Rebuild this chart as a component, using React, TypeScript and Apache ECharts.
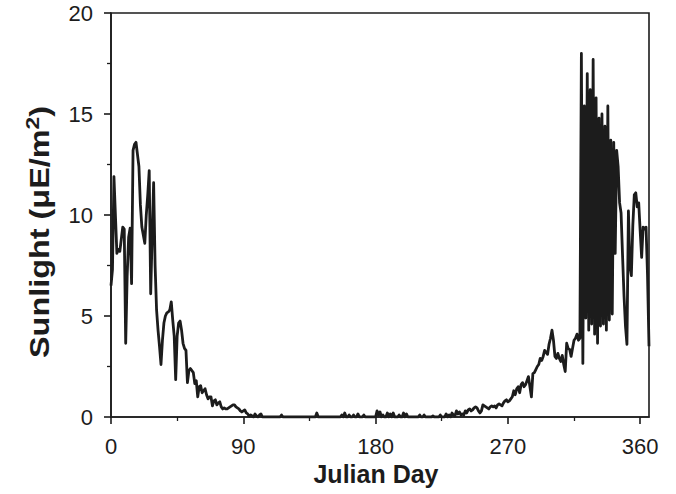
import React, { useEffect, useRef } from "react";
import * as echarts from "echarts";

// Julian day tick labels
const xTicks = [0, 90, 180, 270, 360];
const xMinorTicks = [45, 135, 225, 315];
const yTicks = [0, 5, 10, 15, 20];

// Sunlight (µE/m²), one value per Julian day 0..366
const sunlight0to99 = [
  6.5, 7.3, 11.9, 10.0, 8.1, 8.3, 8.2, 8.8, 9.4, 9.3,
  3.65, 7.0, 8.9, 9.35, 6.6, 13.2, 13.5, 13.6, 13.0, 12.4,
  10.5, 9.4, 9.0, 8.6, 10.0, 11.0, 12.2, 6.1, 9.0, 11.6,
  7.5, 5.3, 4.3, 3.5, 2.6, 3.8, 4.65, 5.0, 5.15, 5.2,
  5.3, 5.7, 4.8, 4.0, 1.85, 4.0, 4.65, 4.75, 4.3, 3.65,
  3.4, 3.3, 1.7, 2.3, 2.4, 2.3, 2.2, 1.65, 1.8, 1.0,
  1.5, 1.55, 1.2, 1.3, 1.4, 1.1, 0.9, 1.0, 1.0, 0.55,
  0.8, 0.85, 0.6, 0.7, 0.75, 0.5, 0.4, 0.45, 0.4, 0.4,
  0.45, 0.5, 0.55, 0.6, 0.6, 0.5, 0.45, 0.4, 0.3, 0.25,
  0.3, 0.35, 0.2, 0.15, 0.05, 0.1, 0.05, 0, 0.15, 0.05,
];
const sunlight100to199 = [
  0, 0.1, 0.15, 0, 0, 0, 0, 0, 0, 0,
  0, 0, 0, 0, 0, 0, 0.1, 0, 0, 0,
  0, 0, 0, 0, 0, 0, 0, 0, 0, 0,
  0, 0, 0, 0, 0, 0, 0, 0, 0, 0,
  0.2, 0, 0, 0, 0, 0, 0, 0, 0, 0,
  0, 0, 0, 0, 0, 0, 0, 0.1, 0, 0.2,
  0, 0, 0.1, 0, 0, 0.1, 0, 0, 0.15, 0,
  0, 0, 0.1, 0, 0, 0, 0, 0, 0, 0,
  0, 0.3, 0.1, 0.25, 0, 0.1, 0, 0, 0.2, 0,
  0.15, 0, 0.2, 0, 0, 0, 0.1, 0, 0, 0.2,
];
const sunlight200to299 = [
  0, 0.15, 0, 0, 0, 0, 0, 0, 0, 0,
  0.1, 0, 0, 0.1, 0, 0, 0, 0, 0, 0.05,
  0, 0, 0, 0, 0.1, 0, 0, 0, 0.15, 0,
  0.1, 0, 0.2, 0.1, 0.05, 0.3, 0.15, 0.25, 0.1, 0.15,
  0.1, 0.3, 0.2, 0.35, 0.4, 0.3, 0.35, 0.45, 0.5, 0.45,
  0.3, 0.2, 0.3, 0.6, 0.55, 0.5, 0.45, 0.4, 0.5, 0.55,
  0.5, 0.55, 0.45, 0.6, 0.65, 0.6, 0.55, 0.7, 0.8, 0.85,
  0.75, 0.8, 0.9, 1.0, 1.3, 1.1, 1.4, 1.5, 1.2, 1.6,
  1.7, 1.5, 1.6, 1.8, 2.0, 1.5, 1.0, 2.15, 2.2, 2.35,
  2.5, 2.6, 2.9, 2.8, 3.0, 3.3, 3.2, 3.1, 3.6, 3.9,
];
const sunlight300to366 = [
  4.3, 3.8, 3.0, 2.9, 3.15, 2.9, 2.75, 3.05, 2.6, 2.25,
  3.65, 3.4, 3.35, 3.0, 3.4, 3.8, 3.9, 4.1, 3.8, 3.9,
  18.0, 2.65, 15.4, 4.9, 17.0, 4.3, 16.2, 4.6, 17.7, 4.1,
  15.8, 3.65, 14.8, 4.5, 15.0, 4.6, 14.4, 4.3, 15.4, 4.8,
  13.7, 5.1, 13.6, 8.1, 13.2, 12.4, 10.6, 10.1, 8.0, 6.0,
  4.5, 3.6, 10.2, 7.5, 7.0, 9.5, 11.0, 11.1, 10.4, 10.6,
  9.2, 7.9, 9.4, 9.3, 9.4, 7.0, 3.5,
];

const sunlight = [
  ...sunlight0to99,
  ...sunlight100to199,
  ...sunlight200to299,
  ...sunlight300to366,
];

const INK = "#1c1c1c";
const FONT = "'Liberation Sans', Arial, Helvetica, sans-serif";

export default function App() {
  const ref = useRef<HTMLDivElement>(null);

  useEffect(() => {
    if (!ref.current) return;
    const chart = echarts.init(ref.current, undefined, { renderer: "svg" });
    const data = sunlight.map((v, i) => [i, v]);

    chart.setOption({
      animation: false,
      backgroundColor: "#ffffff",
      grid: {
        left: 111,
        right: 27,
        top: 13,
        bottom: 77,
        show: true,
        borderColor: INK,
        borderWidth: 1.6,
        backgroundColor: "transparent",
      },
      xAxis: [
        {
          type: "value",
          min: 0,
          max: 366,
          interval: 90,
          name: "Julian Day",
          nameLocation: "middle",
          nameGap: 37,
          nameTextStyle: {
            fontFamily: FONT,
            fontWeight: "bold",
            fontSize: 25,
            color: INK,
            padding: [0, 8, 0, 0],
          },
          axisLine: { show: true, onZero: false, lineStyle: { color: INK, width: 1.6 } },
          axisTick: {
            show: true,
            inside: false,
            length: 7,
            customValues: xTicks,
            lineStyle: { color: INK, width: 1.6 },
          },
          axisLabel: {
            customValues: xTicks,
            fontFamily: FONT,
            fontSize: 22,
            color: INK,
            margin: 18,
          },
          splitLine: { show: false },
        },
        {
          type: "value",
          min: 0,
          max: 366,
          position: "bottom",
          offset: 0,
          axisLine: { show: false },
          axisTick: {
            show: true,
            inside: false,
            length: 4,
            customValues: xMinorTicks,
            lineStyle: { color: INK, width: 1.3 },
          },
          axisLabel: { show: false },
          splitLine: { show: false },
        },
      ],
      yAxis: {
        type: "value",
        min: 0,
        max: 20,
        interval: 5,
        axisLine: { show: true, lineStyle: { color: INK, width: 1.6 } },
        axisTick: { show: true, inside: false, length: 7, lineStyle: { color: INK, width: 1.6 } },
        minorTick: { show: true, splitNumber: 2, length: 4, lineStyle: { color: INK, width: 1.3 } },
        axisLabel: {
          fontFamily: FONT,
          fontSize: 22,
          color: INK,
          margin: 18,
          customValues: yTicks,
        },
        splitLine: { show: false },
      },
      graphic: [
        {
          type: "text",
          x: 39,
          y: 232,
          rotation: Math.PI / 2,
          scaleX: 1.2,
          style: {
            text: "{a|Sunlight (μE/m}{b|2}{a|)}",
            align: "center",
            verticalAlign: "middle",
            fill: INK,
            rich: {
              a: { fontFamily: FONT, fontWeight: "bold", fontSize: 27, fill: INK, color: INK },
              b: {
                fontFamily: FONT,
                fontWeight: "bold",
                fontSize: 19,
                fill: INK,
                color: INK,
                verticalAlign: "top",
                padding: [0, 0, 13, 0],
              },
            },
          },
        },
      ],
      series: [
        {
          type: "line",
          data,
          xAxisIndex: 0,
          showSymbol: false,
          symbol: "none",
          lineStyle: { color: INK, width: 2.8, join: "round" },
          clip: true,
        },
      ],
    });

    return () => chart.dispose();
  }, []);

  return (
    <div
      ref={ref}
      style={{ position: "fixed", left: 0, top: 0, width: 676, height: 494, background: "#fff" }}
    />
  );
}
